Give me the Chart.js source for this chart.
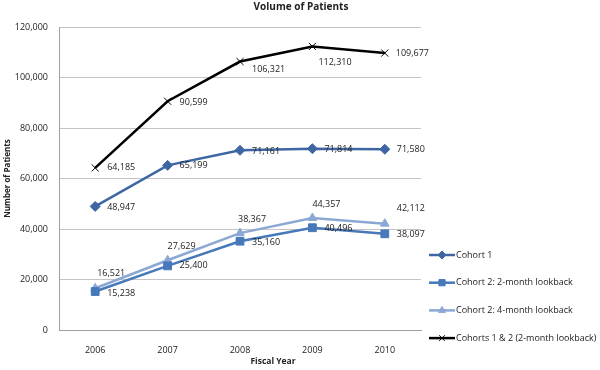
<!DOCTYPE html>
<html>
<head>
<meta charset="utf-8">
<title>Volume of Patients</title>
<script src="https://cdn.jsdelivr.net/npm/chart.js@4.4.1/dist/chart.umd.min.js"></script>
<style>
  html, body { margin: 0; padding: 0; background: #fff; }
  #wrap { width: 600px; height: 370px; position: relative; }
</style>
</head>
<body>
<div id="wrap"><canvas id="patientsChart"></canvas></div>
<script>
// --- data ---
const FISCAL_YEARS = ['2006', '2007', '2008', '2009', '2010'];
const COHORT_1 = [48947, 65199, 71161, 71814, 71580];
const COHORT_2_LOOKBACK_2M = [15238, 25400, 35160, 40496, 38097];
const COHORT_2_LOOKBACK_4M = [16521, 27629, 38367, 44357, 42112];
const COHORTS_COMBINED = [64185, 90599, 106321, 112310, 109677];
const Y_TICKS = [0, 20000, 40000, 60000, 80000, 100000, 120000];

const FONT = "'Open Sans', 'Liberation Sans', sans-serif";
const TEXT_COLOR = '#222';

// number labels next to every point
const valueLabels = {
    id: 'valueLabels',
    afterDatasetsDraw(chart) {
        const ctx = chart.ctx;
        ctx.save();
        ctx.font = `9px ${FONT}`;
        ctx.fillStyle = TEXT_COLOR;
        ctx.textBaseline = 'middle';
        ctx.textAlign = 'left';
        chart.data.datasets.forEach((ds, i) => {
            const meta = chart.getDatasetMeta(i);
            meta.data.forEach((pt, j) => {
                const off = ds.labelOffsets[j];
                ctx.fillText(ds.data[j].toLocaleString('en-US'), pt.x + off[0], pt.y + off[1]);
            });
        });
        ctx.restore();
    }
};

// excel-style legend (line + marker), chart title and x axis title
const sideLegend = {
    id: 'sideLegend',
    afterDraw(chart) {
        const ctx = chart.ctx;
        const area = chart.chartArea;
        const x0 = area.right + 8;
        ctx.save();
        chart.data.datasets.forEach((ds, i) => {
            const y = 255 + i * 27.7;
            ctx.strokeStyle = ds.borderColor;
            ctx.lineWidth = ds.borderWidth;
            ctx.beginPath();
            ctx.moveTo(x0, y);
            ctx.lineTo(x0 + 26, y);
            ctx.stroke();
            ctx.fillStyle = ds.pointBackgroundColor;
            ctx.strokeStyle = ds.pointBorderColor;
            ctx.lineWidth = ds.pointBorderWidth;
            Chart.helpers.drawPoint(ctx, {
                pointStyle: ds.pointStyle,
                radius: ds.pointRadius * 0.8,
                borderWidth: ds.pointBorderWidth,
                rotation: 0
            }, x0 + 13, y);
            ctx.fillStyle = TEXT_COLOR;
            ctx.font = `9px ${FONT}`;
            ctx.textBaseline = 'middle';
            ctx.textAlign = 'left';
            ctx.fillText(ds.label, x0 + 27, y);
        });
        ctx.textAlign = 'center';
        ctx.font = `bold 10px ${FONT}`;
        ctx.fillText('Volume of Patients', 301, 7);
        ctx.font = `bold 8.5px ${FONT}`;
        ctx.fillText('Fiscal Year', 273, 362);
        ctx.restore();
    }
};

const ctx = document.getElementById('patientsChart');
new Chart(ctx, {
    type: 'line',
    data: {
        labels: FISCAL_YEARS,
        datasets: [
            {
                label: 'Cohort 1',
                data: COHORT_1,
                borderColor: '#3d66a3',
                borderWidth: 2.5,
                pointStyle: 'rectRot',
                pointRadius: 5,
                pointBackgroundColor: '#3d66a3',
                pointBorderColor: '#3d66a3',
                pointBorderWidth: 1,
                labelOffsets: [[12, 1], [12, 0], [12, 1], [12, 1], [12, 0]]
            },
            {
                label: 'Cohort 2: 2-month lookback',
                data: COHORT_2_LOOKBACK_2M,
                borderColor: '#4678ba',
                borderWidth: 2.5,
                pointStyle: 'rect',
                pointRadius: 5.5,
                pointBackgroundColor: '#4678ba',
                pointBorderColor: '#4678ba',
                pointBorderWidth: 1,
                labelOffsets: [[12, 2], [12, 0], [12, 1], [12, 1], [12, 1]]
            },
            {
                label: 'Cohort 2: 4-month lookback',
                data: COHORT_2_LOOKBACK_4M,
                borderColor: '#8ba8d5',
                borderWidth: 2.5,
                pointStyle: 'triangle',
                pointRadius: 5,
                pointBackgroundColor: '#8ba8d5',
                pointBorderColor: '#8ba8d5',
                pointBorderWidth: 1,
                labelOffsets: [[2, -15], [0, -14], [-2, -14], [0, -14], [12, -15]]
            },
            {
                label: 'Cohorts 1 & 2 (2-month lookback)',
                data: COHORTS_COMBINED,
                borderColor: '#000000',
                borderWidth: 2.5,
                pointStyle: 'crossRot',
                pointRadius: 5,
                pointBackgroundColor: '#000000',
                pointBorderColor: '#000000',
                pointBorderWidth: 1,
                labelOffsets: [[12, 0], [12, 1], [12, 8], [6, 16], [11, 0]]
            }
        ]
    },
    options: {
        responsive: true,
        maintainAspectRatio: false,
        animation: false,
        events: [],
        layout: { padding: { top: 27, left: 0, right: 179, bottom: 9 } },
        elements: { line: { tension: 0 } },
        plugins: {
            legend: { display: false },
            tooltip: { enabled: false },
            title: { display: false }
        },
        scales: {
            x: {
                offset: true,
                grid: { display: false },
                border: { display: true, color: '#a0a0a0', width: 1 },
                ticks: { color: TEXT_COLOR, font: { family: FONT, size: 9 }, padding: 7 },
                afterFit: (s) => { s.height = 31; }
            },
            y: {
                min: Y_TICKS[0],
                max: Y_TICKS[Y_TICKS.length - 1],
                grid: { color: '#c4c4c4', drawTicks: false },
                border: { display: true, color: '#a0a0a0', width: 1 },
                ticks: {
                    stepSize: Y_TICKS[1] - Y_TICKS[0],
                    padding: 11,
                    color: TEXT_COLOR,
                    font: { family: FONT, size: 9 },
                    callback: (v) => v.toLocaleString('en-US')
                },
                title: {
                    display: true,
                    text: 'Number of Patients',
                    color: TEXT_COLOR,
                    font: { family: FONT, size: 8, weight: 'bold' },
                    padding: { top: 3, bottom: 0 }
                },
                afterFit: (s) => { s.width = 59; }
            }
        }
    },
    plugins: [valueLabels, sideLegend]
});
</script>
</body>
</html>
